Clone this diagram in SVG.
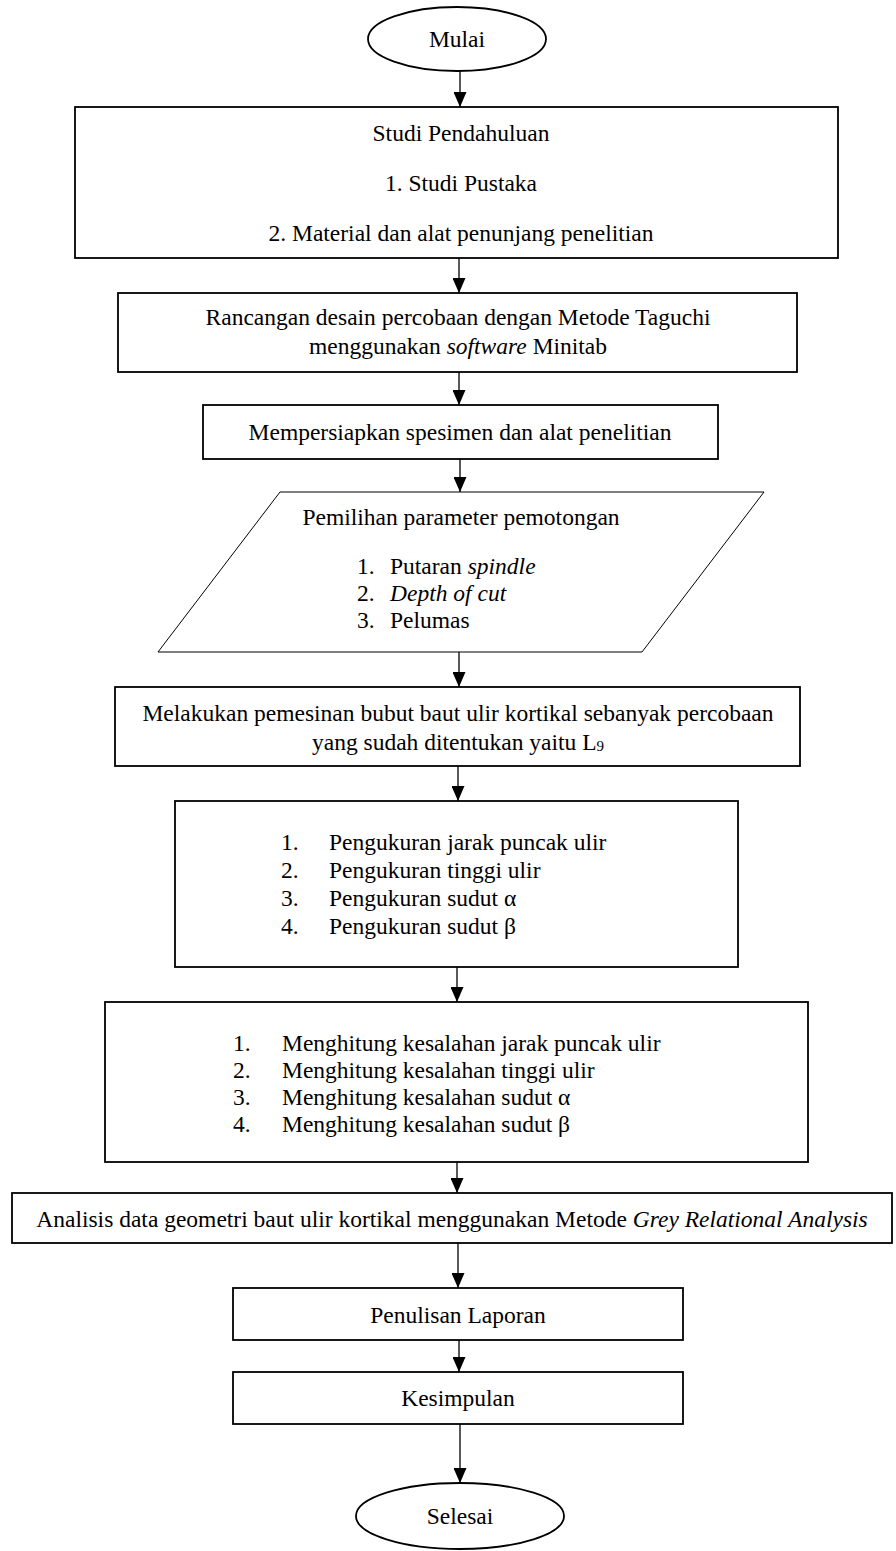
<svg xmlns="http://www.w3.org/2000/svg" width="896" height="1551" viewBox="0 0 896 1551">
<style>
text{font-family:"Liberation Serif","Times New Roman",serif;font-size:23.5px;fill:#000}
.c{text-anchor:middle}
.i{font-style:italic}
.box{fill:#fff;stroke:#000;stroke-width:1.8}
.thin{fill:#fff;stroke:#000;stroke-width:1}
.con{stroke:#000;stroke-width:1.3;fill:none}
</style>
<defs>
<marker id="ah" markerUnits="userSpaceOnUse" markerWidth="15" markerHeight="13" refX="15" refY="6.5" orient="auto">
<path d="M0,0 L15,6.5 L0,13 z" fill="#000"/>
</marker>
</defs>
<rect width="896" height="1551" fill="#fff"/>
<g id="connectors">
<line class="con" x1="460" y1="71" x2="460" y2="107" marker-end="url(#ah)"/>
<line class="con" x1="459" y1="258" x2="459" y2="293" marker-end="url(#ah)"/>
<line class="con" x1="459" y1="372" x2="459" y2="405" marker-end="url(#ah)"/>
<line class="con" x1="460" y1="459" x2="460" y2="492" marker-end="url(#ah)"/>
<line class="con" x1="459" y1="652" x2="459" y2="687" marker-end="url(#ah)"/>
<line class="con" x1="458" y1="766" x2="458" y2="801" marker-end="url(#ah)"/>
<line class="con" x1="457" y1="967" x2="457" y2="1002" marker-end="url(#ah)"/>
<line class="con" x1="457" y1="1162" x2="457" y2="1193" marker-end="url(#ah)"/>
<line class="con" x1="458" y1="1243" x2="458" y2="1288" marker-end="url(#ah)"/>
<line class="con" x1="459" y1="1340" x2="459" y2="1372" marker-end="url(#ah)"/>
<line class="con" x1="460" y1="1424" x2="460" y2="1483" marker-end="url(#ah)"/>
</g>
<g id="mulai">
<ellipse class="box" cx="457" cy="39" rx="89" ry="32"/>
<text class="c" x="457" y="47">Mulai</text>
</g>
<g id="studi">
<rect class="box" x="75" y="107" width="763" height="151"/>
<text class="c" x="461" y="141">Studi Pendahuluan</text>
<text class="c" x="461" y="191">1. Studi Pustaka</text>
<text class="c" x="461" y="241">2. Material dan alat penunjang penelitian</text>
</g>
<g id="rancangan">
<rect class="box" x="118" y="293" width="679" height="79"/>
<text class="c" x="458" y="325">Rancangan desain percobaan dengan Metode Taguchi</text>
<text class="c" x="458" y="354">menggunakan <tspan class="i">software</tspan> Minitab</text>
</g>
<g id="mempersiapkan">
<rect class="box" x="203" y="405" width="515" height="54"/>
<text class="c" x="460" y="440">Mempersiapkan spesimen dan alat penelitian</text>
</g>
<g id="pemilihan">
<polygon class="thin" points="280,492 764,492 642,652 158,652"/>
<text class="c" x="461" y="525">Pemilihan parameter pemotongan</text>
<text x="357" y="574">1.</text><text x="390" y="574">Putaran <tspan class="i">spindle</tspan></text>
<text x="357" y="601">2.</text><text x="390" y="601" class="i">Depth of cut</text>
<text x="357" y="628">3.</text><text x="390" y="628">Pelumas</text>
</g>
<g id="melakukan">
<rect class="box" x="115" y="687" width="685" height="79"/>
<text class="c" x="458" y="721">Melakukan pemesinan bubut baut ulir kortikal sebanyak percobaan</text>
<text class="c" x="458" y="750">yang sudah ditentukan yaitu L<tspan font-size="15" dy="1">9</tspan></text>
</g>
<g id="pengukuran">
<rect class="box" x="175" y="801" width="563" height="166"/>
<text x="281" y="850">1.</text><text x="329" y="850">Pengukuran jarak puncak ulir</text>
<text x="281" y="878">2.</text><text x="329" y="878">Pengukuran tinggi ulir</text>
<text x="281" y="906">3.</text><text x="329" y="906">Pengukuran sudut α</text>
<text x="281" y="934">4.</text><text x="329" y="934">Pengukuran sudut β</text>
</g>
<g id="menghitung">
<rect class="box" x="105" y="1002" width="703" height="160"/>
<text x="233" y="1051">1.</text><text x="282" y="1051">Menghitung kesalahan jarak puncak ulir</text>
<text x="233" y="1078">2.</text><text x="282" y="1078">Menghitung kesalahan tinggi ulir</text>
<text x="233" y="1105">3.</text><text x="282" y="1105">Menghitung kesalahan sudut α</text>
<text x="233" y="1132">4.</text><text x="282" y="1132">Menghitung kesalahan sudut β</text>
</g>
<g id="analisis">
<rect class="box" x="12" y="1193" width="880" height="50"/>
<text class="c" x="452" y="1227">Analisis data geometri baut ulir kortikal menggunakan Metode <tspan class="i">Grey Relational Analysis</tspan></text>
</g>
<g id="penulisan">
<rect class="box" x="233" y="1288" width="450" height="52"/>
<text class="c" x="458" y="1323">Penulisan Laporan</text>
</g>
<g id="kesimpulan">
<rect class="box" x="233" y="1372" width="450" height="52"/>
<text class="c" x="458" y="1406">Kesimpulan</text>
</g>
<g id="selesai">
<ellipse class="box" cx="460" cy="1516" rx="104" ry="33"/>
<text class="c" x="460" y="1524">Selesai</text>
</g>
</svg>
